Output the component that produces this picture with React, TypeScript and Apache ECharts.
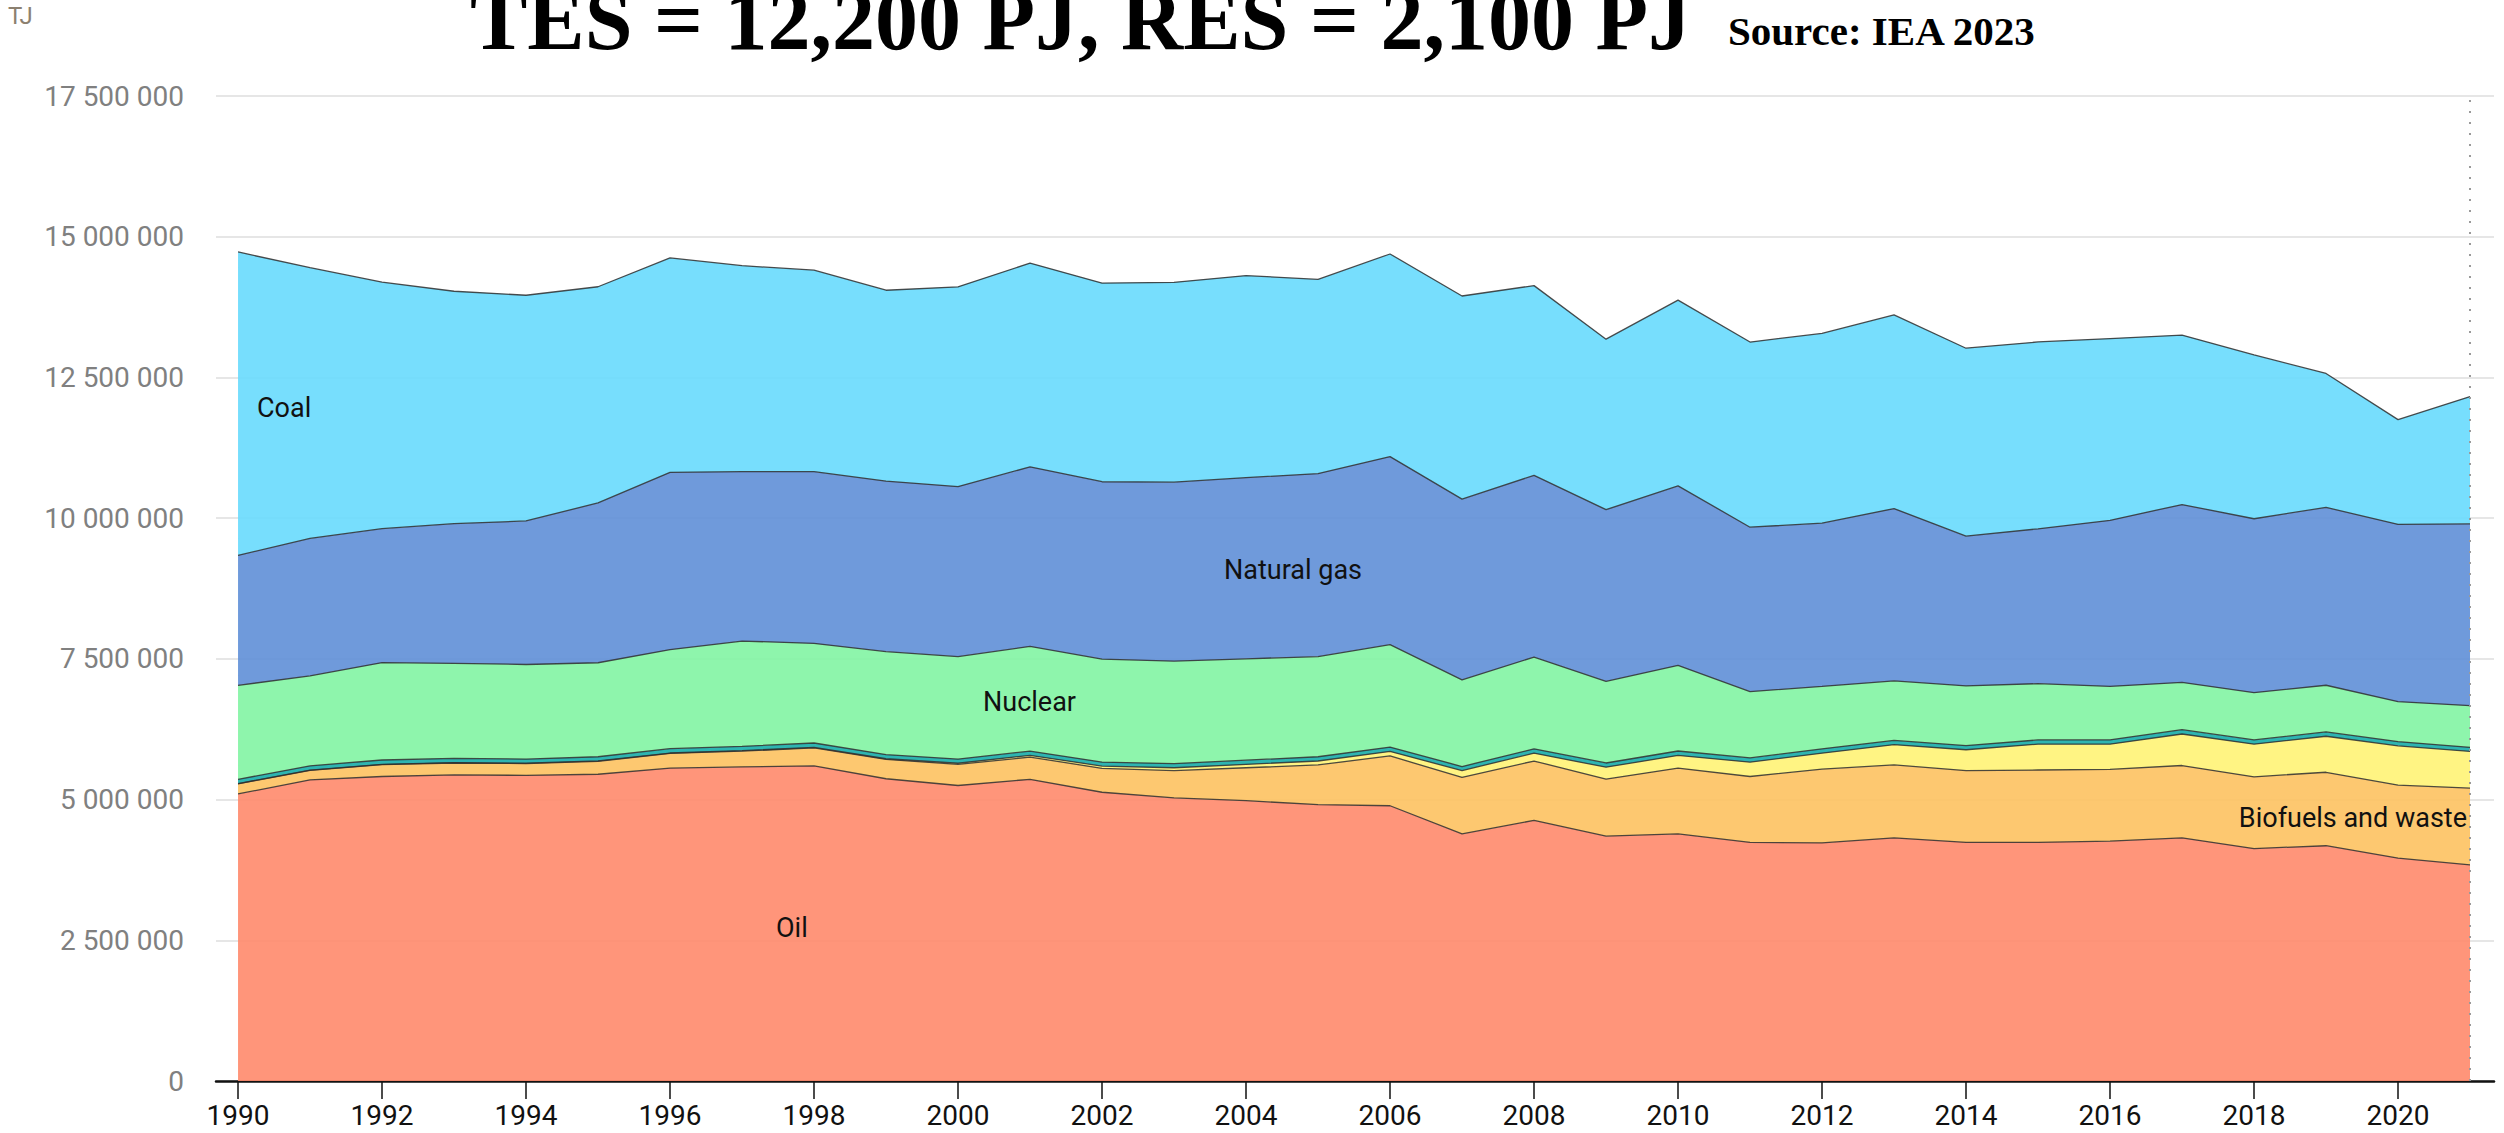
import React, { useEffect, useRef } from "react";
import * as echarts from "echarts";

// Total energy supply by source, TJ
const years = [
  1990, 1991, 1992, 1993, 1994, 1995, 1996, 1997, 1998, 1999, 2000, 2001, 2002, 2003, 2004, 2005,
  2006, 2007, 2008, 2009, 2010, 2011, 2012, 2013, 2014, 2015, 2016, 2017, 2018, 2019, 2020, 2021,
];

const oil = [
  5100000, 5350000, 5410000, 5440000, 5430000, 5450000, 5560000, 5580000, 5600000, 5370000, 5250000,
  5360000, 5130000, 5030000, 4980000, 4910000, 4890000, 4390000, 4630000, 4350000, 4390000, 4240000,
  4230000, 4320000, 4240000, 4240000, 4260000, 4320000, 4130000, 4180000, 3960000, 3840000,
];

const biofuels = [
  180000, 170000, 210000, 210000, 210000, 230000, 260000, 280000, 320000, 345000, 375000, 395000,
  425000, 485000, 585000, 705000, 885000, 1005000, 1055000, 1015000, 1170000, 1170000, 1310000,
  1295000, 1275000, 1285000, 1275000, 1285000, 1275000, 1305000, 1295000, 1365000,
];

const windSolar = [
  4000, 4000, 5000, 5000, 6000, 6000, 7000, 8000, 9000, 10000, 20000, 30000, 40000, 50000, 60000,
  70000, 80000, 120000, 140000, 210000, 225000, 255000, 285000, 360000, 370000, 460000, 450000,
  560000, 580000, 640000, 700000, 650000,
];

const hydro = [
  75000, 75000, 78000, 76000, 74000, 75000, 77000, 78000, 76000, 74000, 75000, 76000, 72000, 74000,
  75000, 76000, 78000, 72000, 76000, 75000, 78000, 74000, 76000, 75000, 74000, 75000, 76000, 77000,
  74000, 76000, 75000, 74000,
];

const nuclear = [
  1670000, 1600000, 1730000, 1690000, 1680000, 1670000, 1760000, 1870000, 1770000, 1830000, 1820000,
  1860000, 1830000, 1820000, 1800000, 1780000, 1820000, 1540000, 1630000, 1450000, 1520000, 1180000,
  1110000, 1060000, 1060000, 1000000, 950000, 840000, 840000, 830000, 710000, 740000,
];

const naturalGas = [
  2310000, 2440000, 2380000, 2480000, 2550000, 2840000, 3150000, 3010000, 3050000, 3030000, 3020000,
  3190000, 3150000, 3180000, 3220000, 3250000, 3340000, 3210000, 3230000, 3050000, 3190000, 2920000,
  2900000, 3060000, 2660000, 2750000, 2950000, 3160000, 3090000, 3160000, 3150000, 3230000,
];

const coal = [
  5390000, 4810000, 4380000, 4130000, 4010000, 3840000, 3810000, 3660000, 3580000, 3390000, 3550000,
  3620000, 3530000, 3550000, 3590000, 3450000, 3600000, 3610000, 3370000, 3030000, 3300000, 3290000,
  3370000, 3440000, 3340000, 3320000, 3230000, 3010000, 2910000, 2380000, 1860000, 2260000,
];

const yearTicks = [1990, 1992, 1994, 1996, 1998, 2000, 2002, 2004, 2006, 2008, 2010, 2012, 2014, 2016, 2018, 2020];

const seriesDefs = [
  { name: "Oil", values: oil, color: "#ff8a6c" },
  { name: "Biofuels and waste", values: biofuels, color: "#fdc261" },
  { name: "Wind, solar, etc.", values: windSolar, color: "#fff375" },
  { name: "Hydro", values: hydro, color: "#17aca8" },
  { name: "Nuclear", values: nuclear, color: "#82f4a3" },
  { name: "Natural gas", values: naturalGas, color: "#5f8fd7" },
  { name: "Coal", values: coal, color: "#68dafd" },
];

const FONT = "Roboto, 'Noto Sans', sans-serif";
const SERIF = "'Liberation Serif', 'DejaVu Serif', serif";

function fmt(v: number) {
  return String(v).replace(/\B(?=(\d{3})+(?!\d))/g, " ");
}

export default function App() {
  const ref = useRef<HTMLDivElement>(null);

  useEffect(() => {
    if (!ref.current) return;
    const chart = echarts.init(ref.current, null, { renderer: "svg" });

    // value first so that the stack is computed on the y (value) dimension
    const series: any[] = seriesDefs.map((s, idx) => ({
      name: s.name,
      type: "line",
      stack: "total",
      symbol: "none",
      silent: true,
      z: 2,
      dimensions: ["value", "year"],
      encode: { x: 1, y: 0 },
      data: years.map((y, i) => [s.values[i], y]),
      lineStyle: { color: "rgba(45,45,45,0.85)", width: 1.3 },
      areaStyle: { color: s.color, opacity: 0.9 },
      emphasis: { disabled: true },
      markLine:
        idx === seriesDefs.length - 1
          ? {
              silent: true,
              symbol: ["none", "none"],
              label: { show: false },
              lineStyle: { type: [2, 9], color: "#9a9a9a", width: 2 },
              data: [{ xAxis: 2021 }],
            }
          : undefined,
    }));

    const labelStyle = { fontFamily: FONT, fontSize: 27, fill: "#111", verticalAlign: "middle" };

    chart.setOption({
      animation: false,
      backgroundColor: "#ffffff",
      grid: { left: 216, right: 10, top: 96, bottom: 52, containLabel: false },
      xAxis: {
        type: "value",
        min: 1989.694,
        max: 2021.333,
        axisLine: { show: true, lineStyle: { color: "#111", width: 2.5 } },
        axisTick: { show: true, length: 18, customValues: yearTicks, lineStyle: { color: "#111", width: 1.5 } },
        axisLabel: {
          customValues: yearTicks,
          formatter: (v: number) => String(v),
          fontFamily: FONT,
          fontSize: 28,
          color: "#111",
          margin: 20,
        },
        splitLine: { show: false },
      },
      yAxis: {
        type: "value",
        min: 0,
        max: 17500000,
        interval: 2500000,
        axisLine: { show: false },
        axisTick: { show: false },
        axisLabel: {
          formatter: (v: number) => fmt(v),
          fontFamily: FONT,
          fontSize: 28,
          color: "#808080",
          margin: 32,
        },
        splitLine: { lineStyle: { color: "#e6e6e6", width: 2 } },
      },
      series,
      graphic: [
        {
          type: "text",
          x: 8,
          y: 16,
          style: { text: "TJ", fontFamily: FONT, fontSize: 24, fill: "#8c8070", verticalAlign: "middle" },
        },
        {
          type: "text",
          x: 470,
          y: 20,
          style: {
            text: "TES = 12,200 PJ, RES = 2,100 PJ",
            fontFamily: SERIF,
            fontWeight: "bold",
            fontSize: 86,
            fill: "#000",
            verticalAlign: "middle",
          },
        },
        {
          type: "text",
          x: 1728,
          y: 31,
          style: {
            text: "Source: IEA 2023",
            fontFamily: SERIF,
            fontWeight: "bold",
            fontSize: 41,
            fill: "#000",
            verticalAlign: "middle",
          },
        },
        { type: "text", x: 257, y: 408, z: 10, style: { ...labelStyle, text: "Coal" } },
        { type: "text", x: 1224, y: 570, z: 10, style: { ...labelStyle, text: "Natural gas" } },
        { type: "text", x: 983, y: 702, z: 10, style: { ...labelStyle, text: "Nuclear" } },
        { type: "text", x: 776, y: 928, z: 10, style: { ...labelStyle, text: "Oil" } },
        {
          type: "text",
          x: 2467,
          y: 818,
          z: 10,
          style: { ...labelStyle, text: "Biofuels and waste", align: "right" },
        },
      ],
    });

    return () => chart.dispose();
  }, []);

  return (
    <div
      ref={ref}
      style={{ position: "absolute", left: 0, top: 0, width: 2504, height: 1133, background: "#fff" }}
    />
  );
}
